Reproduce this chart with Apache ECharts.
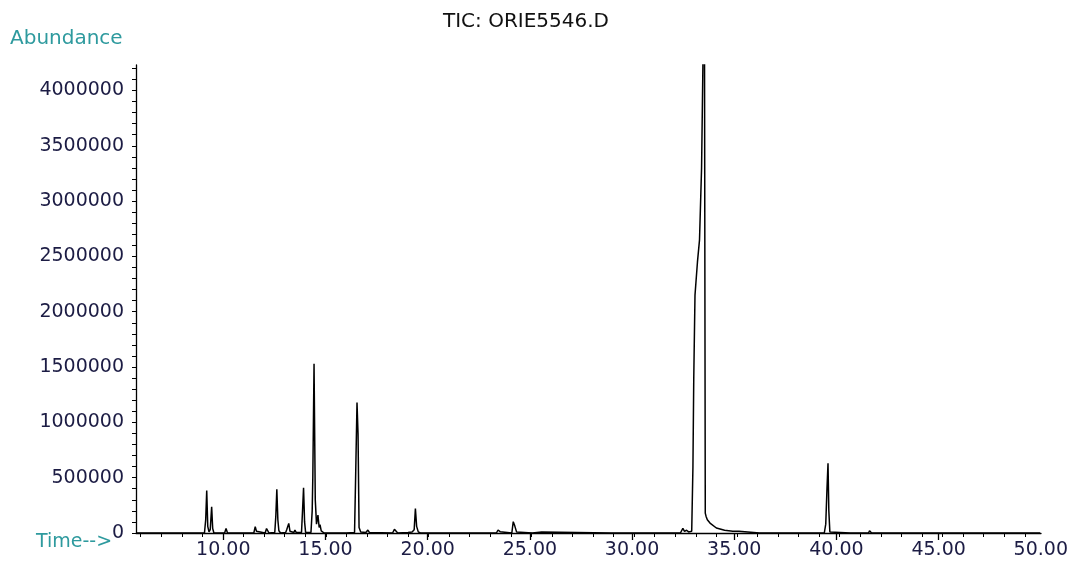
<!DOCTYPE html>
<html>
<head>
<meta charset="utf-8">
<title>TIC: ORIE5546.D</title>
<script src="https://cdn.jsdelivr.net/npm/echarts@6/dist/echarts.min.js"></script>
<style>
  html, body { margin: 0; padding: 0; background: #fff; }
  #chart { width: 1071px; height: 561px; }
</style>
</head>
<body>
<div id="chart"></div>
<script>
// retention time (min) / abundance pairs
const retentionTimes = [
  5.80, 9.10, 9.16, 9.21, 9.26, 9.32, 9.38, 9.45, 9.50, 9.56,
  10.08, 10.15, 10.22, 11.50, 11.57, 11.63, 11.68, 12.05, 12.12, 12.18, 12.24,
  12.52, 12.57, 12.62, 12.67, 12.72, 12.80, 13.05, 13.10, 13.14, 13.20, 13.26, 13.32,
  13.45, 13.50, 13.56, 13.82, 13.87, 13.92, 13.97, 14.02,
  14.28, 14.34, 14.37, 14.43, 14.49, 14.55, 14.62, 14.68, 14.72, 14.78, 14.85, 14.92,
  16.00, 16.02, 16.06, 16.40, 16.45, 16.52, 16.57, 16.62, 16.70,
  16.95, 17.05, 17.12, 17.20, 18.25, 18.34, 18.42, 18.50,
  19.00, 19.20, 19.30, 19.36, 19.42, 19.50, 19.60, 20.57, 20.60, 20.63,
  23.30, 23.38, 23.48, 23.56, 24.05, 24.12, 24.20, 24.28, 24.36,
  25.05, 25.10, 25.50, 25.55, 28.88, 28.93, 28.98, 30.98, 31.02, 31.06,
  32.25, 32.37, 32.45, 32.55, 32.65, 32.80, 32.86, 32.90, 32.96, 33.02, 33.08, 33.18, 33.28, 33.35, 33.42,
  33.46, 33.50, 33.56, 33.69, 34.00, 34.40, 34.80, 35.10, 35.12,
  36.10, 36.13, 36.16, 39.25, 39.32, 39.38, 39.43, 39.47, 39.52, 39.58,
  40.52, 40.56, 40.60, 41.40, 41.45, 41.50, 41.55,
  45.00, 45.05, 45.10, 45.74, 45.78, 45.82, 47.08, 47.13, 47.18,
  48.93, 48.98, 49.03, 49.75
];
const abundances = [
  0, 0, 120000, 385000, 60000, 10000, 30000, 237000, 40000, 0,
  0, 42000, 0, 0, 58000, 15000, 0, 0, 40000, 30000, 0,
  5000, 150000, 395000, 120000, 20000, 0, 5000, 30000, 12000, 87000, 15000, 0,
  5000, 27000, 5000, 5000, 200000, 408000, 100000, 5000,
  5000, 200000, 500000, 1530000, 300000, 80000, 162000, 50000, 75000, 20000, 20000, 0,
  0, 12000, 0, 5000, 480000, 1180000, 900000, 50000, 10000,
  5000, 27000, 5000, 0, 0, 33000, 15000, 0,
  5000, 10000, 30000, 222000, 60000, 10000, 0, 0, 6000, 0,
  0, 27000, 12000, 0, 0, 102000, 60000, 10000, 0,
  0, 8000, 8000, 0, 0, 7000, 0, 0, 5000, 0,
  0, 42000, 15000, 25000, 10000, 15000, 600000, 1400000, 2150000, 2300000, 2450000, 2650000, 3300000, 4300000, 4700000,
  180000, 150000, 120000, 90000, 45000, 25000, 16000, 15000, 0,
  0, 8000, 0, 0, 80000, 400000, 630000, 200000, 10000, 0,
  0, 7000, 0, 0, 20000, 5000, 0,
  0, 12000, 0, 0, 6000, 0, 0, 8000, 0,
  0, 15000, 0, 0
];

const xMinorTicks = [6, 7, 8, 9, 10, 11, 12, 13, 14, 15, 16, 17, 18, 19, 20, 21, 22, 23, 24, 25, 26, 27,
  28, 29, 30, 31, 32, 33, 34, 35, 36, 37, 38, 39, 40, 41, 42, 43, 44, 45, 46, 47, 48, 49];
const xMajorTicks = [10, 15, 20, 25, 30, 35, 40, 45];
const yTicks = [0, 100000, 200000, 300000, 400000, 500000, 600000, 700000, 800000, 900000, 1000000,
  1100000, 1200000, 1300000, 1400000, 1500000, 1600000, 1700000, 1800000, 1900000, 2000000,
  2100000, 2200000, 2300000, 2400000, 2500000, 2600000, 2700000, 2800000, 2900000, 3000000,
  3100000, 3200000, 3300000, 3400000, 3500000, 3600000, 3700000, 3800000, 3900000, 4000000,
  4100000, 4200000];
const yLabels = [0, 500000, 1000000, 1500000, 2000000, 2500000, 3000000, 3500000, 4000000];

const labelColor = '#1c1c44'
const tealColor = '#2e9a9e'
const labelFont = 'DejaVu Sans'

const chart = echarts.init(document.getElementById('chart'))

chart.setOption({
  animation: false,
  title: {
    text: 'TIC: ORIE5546.D',
    left: 521,
    top: 7,
    textAlign: 'center',
    textStyle: { color: '#111', fontSize: 20, fontWeight: 'normal', fontFamily: labelFont },
  },
  graphic: [
    {
      type: 'text', left: 10, top: 29,
      style: { text: 'Abundance', fill: tealColor, fontSize: 20, fontFamily: labelFont },
    },
    {
      type: 'text', left: 36, top: 533,
      style: { text: 'Time-->', fill: tealColor, fontSize: 19, fontFamily: labelFont },
    },
  ],
  grid: [
    { left: 136, right: 30, top: 65, bottom: 28 },
    { left: 223.3, right: 25.7, top: 65, bottom: 28 },
  ],
  xAxis: [
    {
      type: 'value', gridIndex: 0, min: 5.77, max: 49.79,
      axisLine: { show: true, lineStyle: { color: '#000', width: 1.3 } },
      axisTick: { show: true, length: 4, customValues: xMinorTicks, lineStyle: { color: '#000' } },
      axisLabel: { show: false },
      splitLine: { show: false },
    },
    {
      type: 'value', gridIndex: 1, min: 10, max: 50, interval: 5,
      axisLine: { show: false },
      axisTick: { show: true, length: 7, customValues: xMajorTicks, lineStyle: { color: '#000', width: 1.3 } },
      axisLabel: {
        margin: 8, color: labelColor, fontSize: 19, fontFamily: labelFont,
        formatter: (value) => value.toFixed(2),
      },
      splitLine: { show: false },
    },
  ],
  yAxis: [
    {
      type: 'value', gridIndex: 0, min: 0, max: 4230000,
      axisLine: { show: true, lineStyle: { color: '#000', width: 1.3 } },
      axisTick: { show: true, length: 4, customValues: yTicks, lineStyle: { color: '#000' } },
      axisLabel: {
        margin: 12, color: labelColor, fontSize: 19, fontFamily: labelFont,
        customValues: yLabels,
        formatter: (value) => String(value),
      },
      splitLine: { show: false },
    },
    { type: 'value', gridIndex: 1, min: 0, max: 4230000, show: false },
  ],
  series: [
    {
      type: 'line',
      xAxisIndex: 0,
      yAxisIndex: 0,
      data: retentionTimes.map((t, i) => [t, abundances[i]]),
      showSymbol: false,
      clip: true,
      lineStyle: { color: '#000', width: 1.5 },
    },
  ],
})
</script>
</body>
</html>
